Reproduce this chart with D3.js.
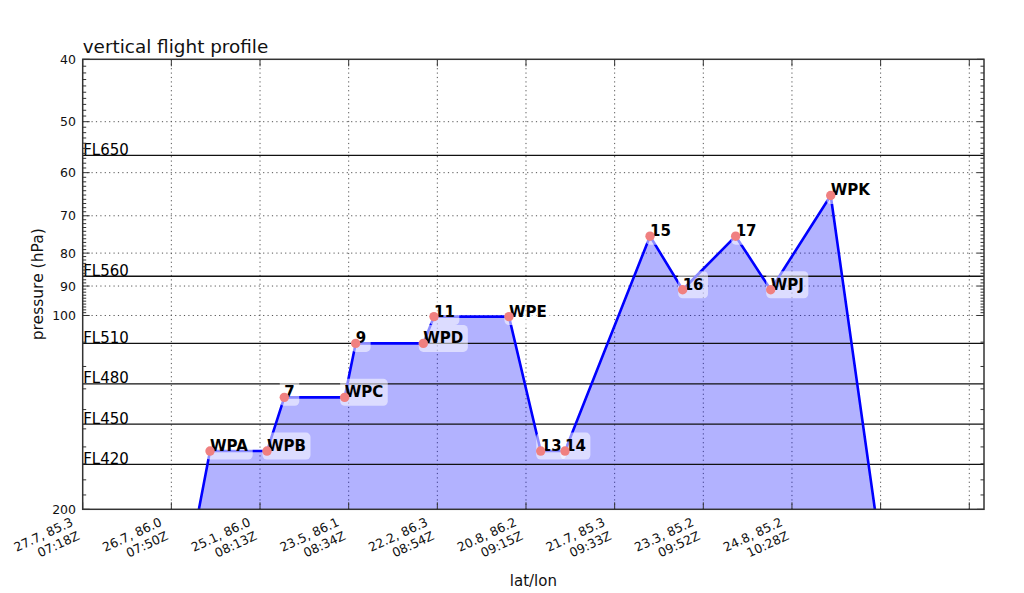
<!DOCTYPE html>
<html><head><meta charset="utf-8">
<script src="https://cdn.jsdelivr.net/npm/d3@7/dist/d3.min.js"></script>
<style>
body{margin:0;background:#fff}
svg text{font-family:"DejaVu Sans",sans-serif}
</style>
</head><body>
<svg id="chart" width="1024" height="593"></svg>
<script>
// ---- data ----
const xTickPositions = [0,1,2,3,4,5,6,7,8,9,10];
const xTickLabels = [
  ["27.7, 85.3","07:18Z"],["26.7, 86.0","07:50Z"],["25.1, 86.0","08:13Z"],
  ["23.5, 86.1","08:34Z"],["22.2, 86.3","08:54Z"],["20.8, 86.2","09:15Z"],
  ["21.7, 85.3","09:33Z"],["23.3, 85.2","09:52Z"],["24.8, 85.2","10:28Z"],
  null, null
];
const waypointNames = ["", "WPA","WPB","7","WPC","9","WPD","11","WPE","13","14","15","16","17","WPJ","WPK",""];
const waypointX = [0.34,1.436,2.079,2.274,2.955,3.079,3.842,3.962,4.808,5.166,5.440,6.399,6.767,7.365,7.760,8.437,9.65];
const waypointPressure = [1000,162.4,162.4,134.0,134.0,110.5,110.5,100.4,100.4,162.4,162.4,75.3,91.2,75.3,91.2,65.1,1000];
const flightLevelNames = ["FL650","FL560","FL510","FL480","FL450","FL420"];
const flightLevelPressure = [56.4,86.9,110.5,127.7,147.5,170.3];
const yMajorTicks = [40,50,60,70,80,90,100,200];
const yGridTicks = [50,60,70,80,90,100];
const yMinorTicks = d3.range(41,100).filter(v=>v%10!==0).concat(d3.range(110,200,10));

// ---- layout ----
const L=82.7, R=984, T=59.3, B=509.3;
const svg = d3.select("#chart");
const x = d3.scaleLinear().domain([0,10.166]).range([L,R]);
const y = d3.scaleLog().domain([40,200]).range([T,B]);

svg.append("defs").append("clipPath").attr("id","clip")
  .append("rect").attr("x",L).attr("y",T).attr("width",R-L).attr("height",B-T);

// grid
const grid = svg.append("g").attr("stroke","#555").attr("stroke-width",1).attr("stroke-dasharray","1.2,3.2");
grid.selectAll("line.v").data(xTickPositions.filter(d=>d>0)).join("line")
  .attr("x1",d=>x(d)).attr("x2",d=>x(d)).attr("y1",T).attr("y2",B);
grid.selectAll("line.h").data(yGridTicks).join("line")
  .attr("x1",L).attr("x2",R).attr("y1",d=>y(d)).attr("y2",d=>y(d));

const pts = waypointX.map((v,i)=>({x:v,p:waypointPressure[i],name:waypointNames[i]}));
const plot = svg.append("g").attr("clip-path","url(#clip)");

// fill
plot.append("path").datum(pts)
  .attr("d", d3.area().x(d=>x(d.x)).y0(y(1000)).y1(d=>y(d.p)))
  .attr("fill","rgb(0,0,255)").attr("fill-opacity",0.3).attr("stroke","none");

// flight level lines
plot.selectAll("line.fl").data(flightLevelPressure).join("line")
  .attr("x1",L).attr("x2",R).attr("y1",d=>y(d)).attr("y2",d=>y(d))
  .attr("stroke","#111").attr("stroke-width",1.3);

// profile line
plot.append("path").datum(pts)
  .attr("d", d3.line().x(d=>x(d.x)).y(d=>y(d.p)))
  .attr("fill","none").attr("stroke","#0000ff").attr("stroke-width",2.6).attr("stroke-linejoin","round");

const named = pts.filter(d=>d.name);

// labels with boxes
const labG = svg.append("g");
named.forEach(d=>{
  const g = labG.append("g");
  const rect = g.append("rect");
  const t = g.append("text").attr("x",x(d.x)).attr("y",y(d.p))
    .attr("font-size",15).attr("font-weight","bold").attr("fill","#000").text(d.name);
  const bb = t.node().getBBox();
  const pad=4.5;
  rect.attr("x",bb.x-pad).attr("y",bb.y-pad).attr("width",bb.width+2*pad).attr("height",bb.height+2*pad)
    .attr("rx",pad).attr("fill","#fff").attr("fill-opacity",0.55);
});

// markers (on top)
svg.append("g").selectAll("circle").data(named).join("circle")
  .attr("cx",d=>x(d.x)).attr("cy",d=>y(d.p)).attr("r",4.7)
  .attr("fill","#f08080");

// flight level text
svg.selectAll("text.fl").data(flightLevelNames).join("text")
  .attr("x",L+0.5).attr("y",(d,i)=>y(flightLevelPressure[i])-0.5)
  .attr("font-size",15).attr("fill","#000").text(d=>d);

// frame
svg.append("rect").attr("x",L).attr("y",T).attr("width",R-L).attr("height",B-T)
  .attr("fill","none").attr("stroke","#333").attr("stroke-width",1.5);

// ticks
const tk = svg.append("g").attr("stroke","#333").attr("stroke-width",1);
xTickPositions.forEach(v=>{
  tk.append("line").attr("x1",x(v)).attr("x2",x(v)).attr("y1",B).attr("y2",B-7);
  tk.append("line").attr("x1",x(v)).attr("x2",x(v)).attr("y1",T).attr("y2",T+7);
});
yMajorTicks.forEach(v=>{
  tk.append("line").attr("x1",L).attr("x2",L+7).attr("y1",y(v)).attr("y2",y(v));
  tk.append("line").attr("x1",R).attr("x2",R-7).attr("y1",y(v)).attr("y2",y(v));
});
yMinorTicks.forEach(v=>{
  tk.append("line").attr("x1",L).attr("x2",L+3.5).attr("y1",y(v)).attr("y2",y(v));
  tk.append("line").attr("x1",R).attr("x2",R-3.5).attr("y1",y(v)).attr("y2",y(v));
});

// y tick labels
svg.selectAll("text.yt").data(yMajorTicks).join("text")
  .attr("x",76).attr("y",d=>y(d)).attr("dy","0.36em").attr("text-anchor","end")
  .attr("font-size",12.5).attr("fill","#111").text(d=>d);

// x tick labels (rotated, right aligned)
xTickPositions.forEach((v,i)=>{
  const lab = xTickLabels[i];
  if(!lab) return;
  const g = svg.append("g");
  const t = g.append("text").attr("transform","rotate(-25)").attr("text-anchor","end")
    .attr("font-size",12.5).attr("fill","#111");
  lab.forEach((s,j)=>t.append("tspan").attr("x",0).attr("dy", j===0? "0em":"1.2em").text(s));
  const r = t.node().getBoundingClientRect();
  g.attr("transform",`translate(${x(v)-1-r.right},${B+5-r.top})`);
});

// axis titles
svg.append("text").attr("x",L).attr("y",52.5).attr("font-size",18.4).attr("fill","#111").text("vertical flight profile");
svg.append("text").attr("x",(L+R)/2).attr("y",586).attr("text-anchor","middle").attr("font-size",15).attr("fill","#111").text("lat/lon");
svg.append("text").attr("transform",`translate(43,${(T+B)/2}) rotate(-90)`).attr("text-anchor","middle")
  .attr("font-size",15.5).attr("fill","#111").text("pressure (hPa)");
</script>
</body></html>
